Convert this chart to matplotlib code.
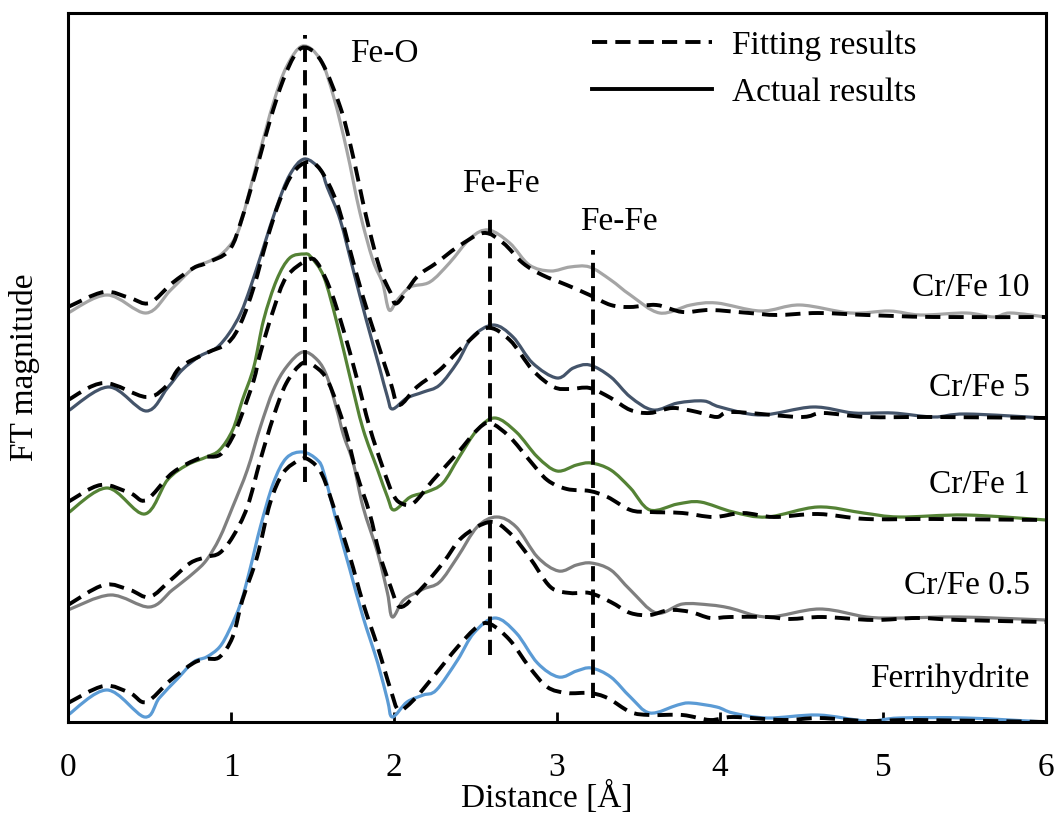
import matplotlib
matplotlib.use("Agg")
import matplotlib.pyplot as plt
from matplotlib.lines import Line2D
from matplotlib.path import Path
from matplotlib.patches import PathPatch

plt.rcParams['font.family'] = ['Liberation Serif', 'DejaVu Serif']

# ---------------- data ----------------
# Cr/Fe 10
x_s10 = [0.00, 0.24, 0.48, 0.63, 0.77, 0.87, 0.95, 1.04, 1.12, 1.18, 1.26, 1.34, 1.44, 1.55, 1.63, 1.71, 1.79,
         1.87, 1.93, 1.97, 2.02, 2.10, 2.22, 2.34, 2.47, 2.58, 2.71, 2.83, 2.96, 3.08, 3.20, 3.33, 3.45, 3.63,
         3.82, 3.98, 4.25, 4.49, 4.80, 5.04, 5.23, 5.51, 5.68, 5.78, 6.00]
y_s10 = [4.09, 4.27, 4.09, 4.32, 4.54, 4.61, 4.69, 4.89, 5.35, 5.72, 6.19, 6.55, 6.76, 6.62, 6.25, 5.72, 5.10,
         4.62, 4.39, 4.12, 4.22, 4.35, 4.40, 4.59, 4.84, 4.92, 4.79, 4.57, 4.51, 4.55, 4.55, 4.42, 4.27, 4.09,
         4.17, 4.19, 4.11, 4.17, 4.09, 4.11, 4.07, 4.09, 4.05, 4.09, 4.05]
x_f10 = [0.00, 0.22, 0.38, 0.50, 0.64, 0.77, 0.85, 0.99, 1.07, 1.16, 1.24, 1.32, 1.40, 1.47, 1.56, 1.67, 1.74,
         1.83, 1.91, 1.98, 2.02, 2.14, 2.26, 2.39, 2.55, 2.67, 2.79, 2.91, 3.06, 3.20, 3.33, 3.45, 3.61, 3.77,
         3.94, 4.18, 4.35, 4.60, 4.90, 5.31, 6.00]
y_f10 = [4.15, 4.30, 4.24, 4.19, 4.39, 4.54, 4.59, 4.72, 5.05, 5.55, 6.02, 6.42, 6.69, 6.74, 6.59, 6.15, 5.72,
         5.05, 4.55, 4.29, 4.19, 4.45, 4.59, 4.75, 4.89, 4.79, 4.59, 4.47, 4.37, 4.27, 4.17, 4.15, 4.17, 4.10,
         4.12, 4.09, 4.07, 4.09, 4.07, 4.05, 4.05]

# Cr/Fe 5
x_s5 = [0.00, 0.25, 0.48, 0.61, 0.70, 0.81, 0.91, 0.99, 1.06, 1.12, 1.20, 1.28, 1.36, 1.45, 1.55, 1.59, 1.67,
        1.75, 1.83, 1.91, 1.96, 1.99, 2.08, 2.18, 2.28, 2.39, 2.48, 2.61, 2.73, 2.85, 3.00, 3.10, 3.20, 3.33,
        3.45, 3.59, 3.74, 3.90, 4.00, 4.25, 4.57, 4.82, 5.06, 5.31, 5.51, 6.00]
y_s5 = [3.11, 3.35, 3.11, 3.34, 3.52, 3.66, 3.74, 3.89, 4.09, 4.35, 4.75, 5.15, 5.47, 5.63, 5.52, 5.35, 5.02,
        4.52, 4.02, 3.55, 3.25, 3.13, 3.24, 3.30, 3.37, 3.60, 3.85, 3.97, 3.85, 3.59, 3.44, 3.54, 3.57, 3.45,
        3.25, 3.12, 3.19, 3.21, 3.15, 3.07, 3.15, 3.09, 3.09, 3.05, 3.08, 3.04]
x_f5 = [0.00, 0.22, 0.48, 0.61, 0.69, 0.85, 0.98, 1.06, 1.14, 1.22, 1.30, 1.38, 1.47, 1.55, 1.65, 1.73, 1.81,
        1.90, 1.98, 2.03, 2.14, 2.28, 2.42, 2.57, 2.71, 2.85, 2.98, 3.08, 3.20, 3.33, 3.45, 3.57, 3.71, 3.86,
        3.98, 4.08, 4.49, 4.63, 4.90, 5.31, 6.00]
y_f5 = [3.22, 3.39, 3.25, 3.37, 3.55, 3.69, 3.79, 3.99, 4.35, 4.82, 5.22, 5.49, 5.60, 5.52, 5.19, 4.72, 4.25,
        3.79, 3.39, 3.17, 3.35, 3.52, 3.75, 3.94, 3.82, 3.52, 3.35, 3.33, 3.34, 3.24, 3.12, 3.09, 3.14, 3.10,
        3.05, 3.10, 3.05, 3.09, 3.05, 3.05, 3.04]

# Cr/Fe 1
x_s1 = [0.00, 0.24, 0.47, 0.61, 0.73, 0.85, 0.93, 1.01, 1.07, 1.14, 1.20, 1.28, 1.36, 1.45, 1.49, 1.57, 1.65,
        1.73, 1.81, 1.90, 1.96, 2.00, 2.10, 2.20, 2.30, 2.40, 2.51, 2.62, 2.75, 2.88, 3.00, 3.12, 3.21, 3.33,
        3.45, 3.57, 3.74, 3.88, 4.08, 4.29, 4.60, 4.88, 5.10, 5.51, 6.00]
y_s1 = [2.09, 2.34, 2.08, 2.42, 2.57, 2.65, 2.72, 2.92, 3.22, 3.55, 4.02, 4.42, 4.64, 4.68, 4.65, 4.45, 3.99,
        3.45, 2.93, 2.52, 2.25, 2.12, 2.25, 2.30, 2.39, 2.65, 2.92, 3.04, 2.90, 2.65, 2.51, 2.57, 2.59, 2.52,
        2.34, 2.12, 2.18, 2.20, 2.10, 2.05, 2.15, 2.09, 2.05, 2.07, 2.02]
x_f1 = [0.00, 0.20, 0.38, 0.48, 0.64, 0.81, 0.93, 1.01, 1.07, 1.14, 1.18, 1.26, 1.34, 1.47, 1.53, 1.61, 1.69,
        1.77, 1.85, 1.93, 1.99, 2.04, 2.12, 2.24, 2.39, 2.51, 2.59, 2.71, 2.83, 2.94, 3.06, 3.20, 3.31, 3.45,
        3.57, 3.77, 3.96, 4.14, 4.33, 4.60, 4.90, 5.31, 6.00]
y_f1 = [2.20, 2.37, 2.29, 2.22, 2.49, 2.64, 2.67, 2.85, 3.09, 3.42, 3.69, 4.12, 4.45, 4.62, 4.59, 4.32, 3.92,
        3.45, 2.95, 2.55, 2.29, 2.19, 2.19, 2.42, 2.69, 2.92, 2.99, 2.85, 2.62, 2.42, 2.33, 2.31, 2.25, 2.12,
        2.10, 2.09, 2.05, 2.09, 2.05, 2.08, 2.03, 2.03, 2.02]

# Cr/Fe 0.5
x_s05 = [0.00, 0.26, 0.50, 0.64, 0.77, 0.85, 0.93, 1.01, 1.10, 1.18, 1.26, 1.34, 1.44, 1.53, 1.59, 1.65, 1.69,
         1.75, 1.81, 1.90, 1.96, 1.99, 2.06, 2.18, 2.28, 2.39, 2.51, 2.63, 2.75, 2.88, 3.01, 3.12, 3.21, 3.33,
         3.45, 3.61, 3.77, 3.94, 4.06, 4.29, 4.61, 4.90, 5.10, 5.47, 6.00]
y_s05 = [1.12, 1.27, 1.15, 1.32, 1.49, 1.62, 1.84, 2.15, 2.52, 2.95, 3.32, 3.55, 3.70, 3.62, 3.45, 3.12, 2.87,
         2.59, 2.15, 1.69, 1.29, 1.05, 1.22, 1.33, 1.40, 1.65, 1.95, 2.05, 1.95, 1.65, 1.51, 1.57, 1.59, 1.52,
         1.32, 1.09, 1.18, 1.17, 1.14, 1.05, 1.13, 1.05, 1.04, 1.05, 1.02]
x_f05 = [0.00, 0.22, 0.38, 0.50, 0.63, 0.75, 0.85, 0.93, 1.01, 1.10, 1.18, 1.26, 1.34, 1.44, 1.52, 1.60, 1.70,
         1.77, 1.85, 1.91, 1.98, 2.04, 2.16, 2.30, 2.42, 2.59, 2.71, 2.83, 2.96, 3.08, 3.20, 3.33, 3.45, 3.57,
         3.69, 3.82, 3.94, 4.06, 4.29, 4.43, 4.63, 4.94, 5.21, 5.47, 6.00]
y_f05 = [1.17, 1.37, 1.32, 1.25, 1.42, 1.59, 1.65, 1.69, 1.85, 2.15, 2.62, 3.05, 3.39, 3.59, 3.55, 3.39, 2.93,
         2.49, 2.09, 1.69, 1.35, 1.15, 1.32, 1.59, 1.85, 2.00, 1.89, 1.65, 1.35, 1.29, 1.29, 1.20, 1.09, 1.07,
         1.12, 1.10, 1.04, 1.05, 1.05, 1.03, 1.05, 1.02, 1.04, 1.02, 1.00]

# Ferrihydrite
x_sF = [0.00, 0.24, 0.47, 0.56, 0.67, 0.77, 0.85, 0.93, 0.99, 1.06, 1.12, 1.18, 1.26, 1.34, 1.44, 1.53, 1.57,
        1.65, 1.73, 1.81, 1.90, 1.96, 1.99, 2.08, 2.18, 2.26, 2.39, 2.49, 2.62, 2.75, 2.88, 3.01, 3.12, 3.21,
        3.33, 3.45, 3.57, 3.74, 3.82, 3.98, 4.08, 4.29, 4.60, 4.90, 5.10, 5.51, 6.00]
y_sF = [0.07, 0.32, 0.05, 0.24, 0.43, 0.60, 0.65, 0.75, 0.92, 1.19, 1.55, 1.95, 2.39, 2.64, 2.70, 2.62, 2.49,
        1.99, 1.52, 1.05, 0.59, 0.22, 0.05, 0.20, 0.27, 0.32, 0.62, 0.89, 1.04, 0.89, 0.59, 0.45, 0.51, 0.54,
        0.45, 0.25, 0.09, 0.17, 0.19, 0.15, 0.09, 0.04, 0.07, 0.01, 0.04, 0.04, 0.00]
x_fF = [0.00, 0.22, 0.38, 0.48, 0.63, 0.77, 0.85, 0.93, 1.01, 1.07, 1.16, 1.24, 1.32, 1.42, 1.48, 1.56, 1.65,
        1.73, 1.81, 1.90, 1.98, 2.03, 2.12, 2.24, 2.39, 2.51, 2.59, 2.71, 2.83, 2.94, 3.06, 3.20, 3.31, 3.45,
        3.57, 3.77, 3.94, 4.08, 4.39, 4.61, 4.90, 5.21, 6.00]
y_fF = [0.19, 0.36, 0.29, 0.20, 0.42, 0.59, 0.63, 0.65, 0.85, 1.22, 1.65, 2.19, 2.49, 2.62, 2.62, 2.47, 2.05,
        1.65, 1.19, 0.75, 0.32, 0.12, 0.22, 0.45, 0.75, 0.95, 0.98, 0.82, 0.55, 0.35, 0.29, 0.29, 0.24, 0.10,
        0.07, 0.07, 0.02, 0.05, 0.02, 0.04, 0.01, 0.02, 0.00]

sample_names = ["Cr/Fe 10", "Cr/Fe 5", "Cr/Fe 1", "Cr/Fe 0.5", "Ferrihydrite"]
sample_colors = ["#A5A5A5", "#44546A", "#548235", "#7F7F7F", "#5B9BD5"]
actual = [(x_s10, y_s10), (x_s5, y_s5), (x_s1, y_s1), (x_s05, y_s05), (x_sF, y_sF)]
fitted = [(x_f10, y_f10), (x_f5, y_f5), (x_f1, y_f1), (x_f05, y_f05), (x_fF, y_fF)]
label_y = [4.26, 3.26, 2.29, 1.28, 0.35]

# reference bond distances (vertical dashed lines): x, top, bottom
bond_names = ["Fe-O", "Fe-Fe", "Fe-Fe"]
bond_x = [1.454, 2.59, 3.22]
bond_top = [6.87, 5.07, 4.72]
bond_bottom = [2.40, 0.67, 0.24]
bond_label_x = [1.73, 2.42, 3.14]
bond_label_y = [6.60, 5.30, 4.92]

xticks = [0, 1, 2, 3, 4, 5, 6]


def smooth_path(xs, ys):
    """Smoothed-line rendering (like a spreadsheet 'smoothed line') through the read points."""
    n = len(xs)
    verts = [(xs[0], ys[0])]
    codes = [Path.MOVETO]
    for i in range(n - 1):
        i0 = max(i - 1, 0)
        i3 = min(i + 2, n - 1)
        c1 = (xs[i] + (xs[i + 1] - xs[i0]) / 6.0, ys[i] + (ys[i + 1] - ys[i0]) / 6.0)
        c2 = (xs[i + 1] - (xs[i3] - xs[i]) / 6.0, ys[i + 1] - (ys[i3] - ys[i]) / 6.0)
        verts += [c1, c2, (xs[i + 1], ys[i + 1])]
        codes += [Path.CURVE4, Path.CURVE4, Path.CURVE4]
    return Path(verts, codes)


# ---------------- figure ----------------
fig = plt.figure(figsize=(10.59, 8.16), dpi=100)
ax = fig.add_axes([68 / 1059, 94 / 816, 978 / 1059, 709 / 816])

dash = (0, (3.9, 2.1))
for (xs, ys), c in zip(actual, sample_colors):
    ax.add_patch(PathPatch(smooth_path(xs, ys), fill=False, edgecolor=c, lw=2.3,
                           joinstyle='round', zorder=2))
for xs, ys in fitted:
    ax.add_patch(PathPatch(smooth_path(xs, ys), fill=False, edgecolor='black', lw=2.8,
                           linestyle=dash, zorder=3))

for bx, bt, bb in zip(bond_x, bond_top, bond_bottom):
    ax.plot([bx, bx], [bb, bt], color='black', lw=2.8, linestyle=dash, zorder=4)

fs = 24
for name, lx, ly in zip(bond_names, bond_label_x, bond_label_y):
    ax.text(lx, ly, name, fontsize=fs, ha='left', va='baseline')
for name, ly in zip(sample_names, label_y):
    ax.text(5.90, ly, name, fontsize=fs, ha='right', va='baseline')

ax.set_xlim(0, 6)
ax.set_ylim(0, 7.09)
ax.set_xticks(xticks)
ax.set_xticklabels([str(t) for t in xticks])
ax.set_yticks([])
ax.tick_params(axis='x', direction='in', length=7, width=2, labelsize=fs, pad=22)
for sp in ax.spines.values():
    sp.set_linewidth(2.2)

ax.set_xlabel("Distance [Å]", fontsize=fs)
ax.xaxis.set_label_coords(0.49, -0.083)
ax.set_ylabel("FT magnitude", fontsize=fs)
ax.yaxis.set_label_coords(-0.029, 0.5)

handles = [Line2D([], [], color='black', lw=2.8, linestyle=dash),
           Line2D([], [], color='black', lw=2.8)]
ax.legend(handles, ["Fitting results", "Actual results"], loc='upper left',
          bbox_to_anchor=(0.536, 0.976), frameon=False, fontsize=fs,
          handlelength=3.6, handletextpad=0.6, labelspacing=0.5,
          borderpad=0, borderaxespad=0)

fig.savefig("out.png", dpi=100)
